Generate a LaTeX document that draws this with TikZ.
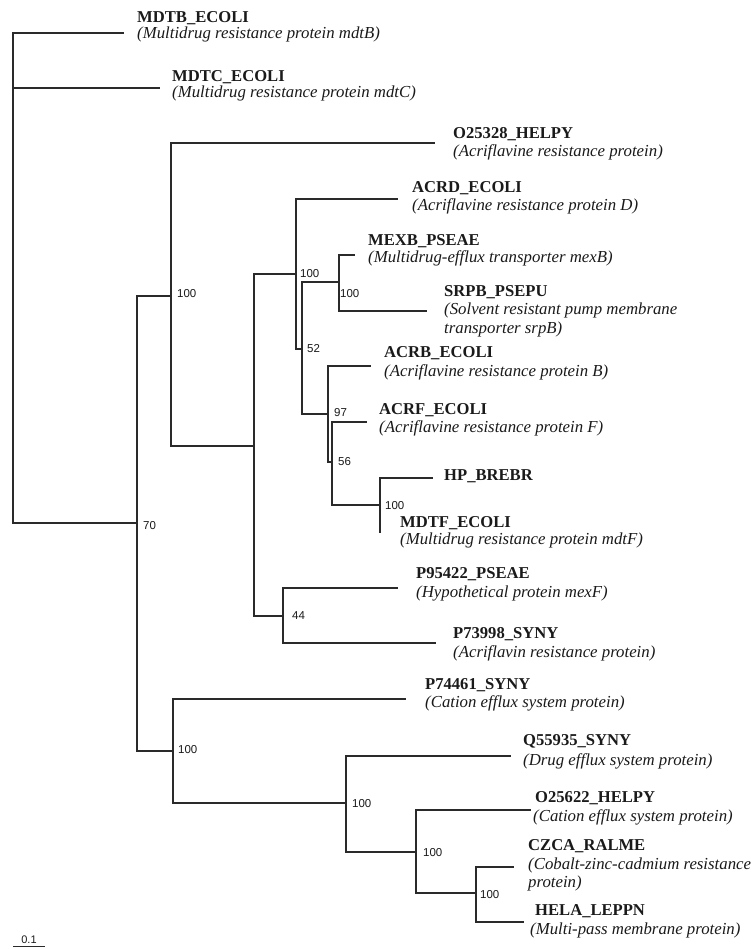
\documentclass[tikz,border=0pt]{standalone}
\usepackage{fontspec}
\setmainfont{Liberation Serif}
\newfontfamily\bootfont{Liberation Sans}
\definecolor{linec}{HTML}{2A2A2A}
\definecolor{textc}{HTML}{1A1A1A}
\tikzset{
  branch/.style={draw=linec, line width=1.3bp, line cap=rect},
  taxon/.style={anchor=west, inner sep=0pt, text height=11.1bp, text depth=0pt, text=textc,
    font=\bfseries\fontsize{16.6bp}{18bp}\selectfont},
  descr/.style={anchor=west, inner sep=0pt, text height=8.4bp, text depth=0pt, text=textc,
    font=\itshape\fontsize{16.8bp}{18bp}\selectfont},
  boot/.style={anchor=west, inner sep=0pt, text height=8.2bp, text depth=0pt, text=textc,
    font=\bootfont\fontsize{11.5bp}{13bp}\selectfont}
}
\begin{document}
\begin{tikzpicture}[x=1bp, y=-1bp]
\useasboundingbox[fill=white] (0,0) rectangle (752,949);
% internal nodes
\coordinate (root) at (13,523);
\coordinate (n70) at (137,523);
\coordinate (nA) at (171,296);
\coordinate (nB) at (254,446);
\coordinate (nC) at (296,274);
\coordinate (nD) at (302,349);
\coordinate (nE) at (339,282);
\coordinate (nF) at (328,414);
\coordinate (nG) at (332,462);
\coordinate (nH) at (380,505);
\coordinate (nI) at (283,616);
\coordinate (nJ) at (173,751);
\coordinate (nK) at (346,803);
\coordinate (nL) at (416,852);
\coordinate (nM) at (476,893);
% tips
\coordinate (tMDTB) at (123,33);
\coordinate (tMDTC) at (159,88);
\coordinate (tO25328) at (434,143);
\coordinate (tACRD) at (397,199);
\coordinate (tMEXB) at (354,255);
\coordinate (tSRPB) at (426,311);
\coordinate (tACRB) at (370,366);
\coordinate (tACRF) at (366,422);
\coordinate (tHP) at (432,478);
\coordinate (tMDTF) at (380,532);
\coordinate (tP95422) at (397,588);
\coordinate (tP73998) at (435,643);
\coordinate (tP74461) at (405,699);
\coordinate (tQ55935) at (510,756);
\coordinate (tO25622) at (530,810);
\coordinate (tCZCA) at (513,867);
\coordinate (tHELA) at (523,922);
% branches
\draw[branch] (root) |- (tMDTB);
\draw[branch] (root) |- (tMDTC);
\draw[branch] (root) |- (n70);
\draw[branch] (n70) |- (nA);
\draw[branch] (n70) |- (nJ);
\draw[branch] (nA) |- (tO25328);
\draw[branch] (nA) |- (nB);
\draw[branch] (nB) |- (nC);
\draw[branch] (nB) |- (nI);
\draw[branch] (nC) |- (tACRD);
\draw[branch] (nC) |- (nD);
\draw[branch] (nD) |- (nE);
\draw[branch] (nD) |- (nF);
\draw[branch] (nE) |- (tMEXB);
\draw[branch] (nE) |- (tSRPB);
\draw[branch] (nF) |- (tACRB);
\draw[branch] (nF) |- (nG);
\draw[branch] (nG) |- (tACRF);
\draw[branch] (nG) |- (nH);
\draw[branch] (nH) |- (tHP);
\draw[branch] (nH) |- (tMDTF);
\draw[branch] (nI) |- (tP95422);
\draw[branch] (nI) |- (tP73998);
\draw[branch] (nJ) |- (tP74461);
\draw[branch] (nJ) |- (nK);
\draw[branch] (nK) |- (tQ55935);
\draw[branch] (nK) |- (nL);
\draw[branch] (nL) |- (tO25622);
\draw[branch] (nL) |- (nM);
\draw[branch] (nM) |- (tCZCA);
\draw[branch] (nM) |- (tHELA);
% taxon labels
\node[taxon] (lMDTB) at (137,17) {MDTB\_ECOLI};
\node[descr] (dMDTB) at (137,34) {(Multidrug resistance protein mdtB)};
\node[taxon] (lMDTC) at (172,76) {MDTC\_ECOLI};
\node[descr] (dMDTC) at (172,93) {(Multidrug resistance protein mdtC)};
\node[taxon] (lO25328) at (453,133) {O25328\_HELPY};
\node[descr] (dO25328) at (453,152) {(Acriflavine resistance protein)};
\node[taxon] (lACRD) at (412,187) {ACRD\_ECOLI};
\node[descr] (dACRD) at (412,206) {(Acriflavine resistance protein D)};
\node[taxon] (lMEXB) at (368,240) {MEXB\_PSEAE};
\node[descr] (dMEXB) at (368,258) {(Multidrug-efflux transporter mexB)};
\node[taxon] (lSRPB) at (444,291) {SRPB\_PSEPU};
\node[descr] (dSRPB) at (444,310) {(Solvent resistant pump membrane};
\node[descr] (dSRPBb) at (444,329) {transporter srpB)};
\node[taxon] (lACRB) at (384,352) {ACRB\_ECOLI};
\node[descr] (dACRB) at (384,372) {(Acriflavine resistance protein B)};
\node[taxon] (lACRF) at (379,409) {ACRF\_ECOLI};
\node[descr] (dACRF) at (379,428) {(Acriflavine resistance protein F)};
\node[taxon] (lHP) at (444,475) {HP\_BREBR};
\node[taxon] (lMDTF) at (400,522) {MDTF\_ECOLI};
\node[descr] (dMDTF) at (400,540) {(Multidrug resistance protein mdtF)};
\node[taxon] (lP95422) at (416,573) {P95422\_PSEAE};
\node[descr] (dP95422) at (416,593) {(Hypothetical protein mexF)};
\node[taxon] (lP73998) at (453,633) {P73998\_SYNY};
\node[descr] (dP73998) at (453,653) {(Acriflavin resistance protein)};
\node[taxon] (lP74461) at (425,684) {P74461\_SYNY};
\node[descr] (dP74461) at (425,703) {(Cation efflux system protein)};
\node[taxon] (lQ55935) at (523,740) {Q55935\_SYNY};
\node[descr] (dQ55935) at (523,761) {(Drug efflux system protein)};
\node[taxon] (lO25622) at (535,797) {O25622\_HELPY};
\node[descr] (dO25622) at (533,817) {(Cation efflux system protein)};
\node[taxon] (lCZCA) at (528,845) {CZCA\_RALME};
\node[descr] (dCZCA) at (528,865) {(Cobalt-zinc-cadmium resistance};
\node[descr] (dCZCAb) at (528,883) {protein)};
\node[taxon] (lHELA) at (535,910) {HELA\_LEPPN};
\node[descr] (dHELA) at (530,930) {(Multi-pass membrane protein)};
% bootstrap values
\node[boot] (b70) at (143,525) {70};
\node[boot] (bA) at (177,293) {100};
\node[boot] (bC) at (300,273) {100};
\node[boot] (bE) at (340,293) {100};
\node[boot] (bD) at (307,348) {52};
\node[boot] (bF) at (334,412) {97};
\node[boot] (bG) at (338,461) {56};
\node[boot] (bH) at (385,505) {100};
\node[boot] (bI) at (292,615) {44};
\node[boot] (bJ) at (178,749) {100};
\node[boot] (bK) at (352,803) {100};
\node[boot] (bL) at (423,852) {100};
\node[boot] (bM) at (480,894) {100};
% scale bar
\coordinate (s1) at (13,946.5);
\coordinate (s2) at (45,946.5);
\draw[branch, line cap=butt] (s1) -- (s2);
\node[boot, anchor=center, font=\bootfont\fontsize{11bp}{13bp}\selectfont] (sc) at (29,939) {0.1};
\end{tikzpicture}
\end{document}
